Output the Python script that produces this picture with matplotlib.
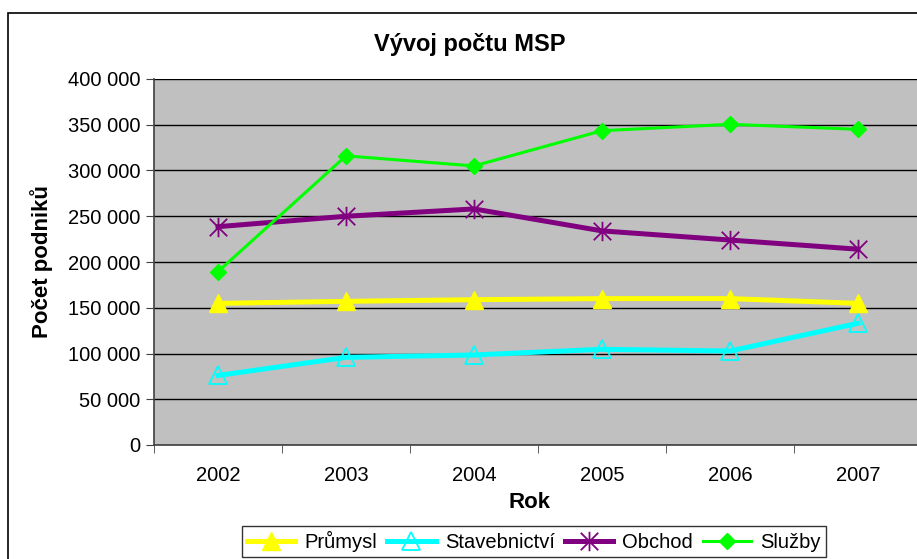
import matplotlib
matplotlib.use("Agg")
from matplotlib import pyplot as plt
from matplotlib.path import Path
from matplotlib.patches import Rectangle
from matplotlib.ticker import FuncFormatter, FixedLocator

plt.rcParams['font.family'] = ['Liberation Sans', 'DejaVu Sans']

years = ['2002', '2003', '2004', '2005', '2006', '2007']
prumysl = [154800, 157000, 158800, 160000, 160000, 154800]
stavebnictvi = [76000, 95800, 98400, 104600, 102700, 133000]
obchod = [238600, 250000, 258000, 234000, 224000, 214000]
sluzby = [189500, 316000, 305000, 343500, 350500, 345000]

# Excel-like star: vertical bar plus an X
star = Path([(0, -1), (0, 1), (-0.9, -0.9), (0.9, 0.9), (-0.9, 0.9), (0.9, -0.9)],
            [Path.MOVETO, Path.LINETO, Path.MOVETO, Path.LINETO, Path.MOVETO, Path.LINETO])

W, H = 917, 559
fig = plt.figure(figsize=(W / 100, H / 100), dpi=100)
fig.patch.set_facecolor('white')
fig.patches.append(Rectangle((8 / W, -0.05), 1.1, 1 - 13 / H + 0.05, transform=fig.transFigure,
                             fill=False, edgecolor='black', linewidth=1.2))

ax = fig.add_axes([154 / W, 1 - 445 / H, 768 / W, 366 / H])
ax.set_facecolor('#c0c0c0')

x = list(range(len(years)))
ax.plot(x, prumysl, color='#ffff00', lw=3.6, marker='^', ms=13, mfc='#ffff00', mec='#ffff00',
        label='Průmysl', zorder=3)
ax.plot(x, stavebnictvi, color='#00ffff', lw=3.6, marker='^', ms=13, mfc='none', mec='#00ffff',
        mew=1.3, label='Stavebnictví', zorder=3)
ax.plot(x, obchod, color='#800080', lw=3.6, marker=star, ms=14, mfc='none', mec='#800080',
        mew=1.3, label='Obchod', zorder=3)
ax.plot(x, sluzby, color='#00ff00', lw=2.2, marker='D', ms=8, mfc='#00ff00', mec='#00ff00',
        label='Služby', zorder=3)

ax.set_xlim(-0.5, len(years) - 0.5)
ax.set_ylim(0, 400000)
ax.set_yticks(range(0, 400001, 50000))
ax.yaxis.set_major_formatter(FuncFormatter(lambda v, p: f'{int(v):,}'.replace(',', ' ')))
ax.grid(axis='y', color='black', lw=1)
ax.set_axisbelow(True)

ax.set_xticks(x)
ax.set_xticklabels(years)
ax.xaxis.set_minor_locator(FixedLocator([i + 0.5 for i in range(-1, len(years))]))
ax.tick_params(axis='x', which='major', length=0, pad=15, labelsize=14.5)
ax.tick_params(axis='x', which='minor', length=6, direction='out', color='#404040')
ax.tick_params(axis='y', length=6, direction='out', color='#404040', labelsize=14.5, pad=4)

for s in ['top', 'right']:
    ax.spines[s].set_visible(False)
for s in ['left', 'bottom']:
    ax.spines[s].set_color('#404040')
    ax.spines[s].set_linewidth(1.2)

fig.text(470 / W, 1 - 45 / H, 'Vývoj počtu MSP', ha='center', va='center',
         fontsize=17, fontweight='bold')
fig.text(530 / W, 1 - 503 / H, 'Rok', ha='center', va='center', fontsize=16, fontweight='bold')
fig.text(42 / W, 1 - 262 / H, 'Počet podniků', ha='center', va='center', rotation=90,
         fontsize=16, fontweight='bold')

leg = fig.legend(loc='upper left', bbox_to_anchor=(242 / W, 1 - 526 / H), ncol=4,
                 frameon=True, fancybox=False, fontsize=14.5, handlelength=2.4,
                 handletextpad=0.45, columnspacing=0.5, borderpad=0.25, borderaxespad=0)
leg.get_frame().set_edgecolor('black')
leg.get_frame().set_linewidth(1)

fig.savefig('out.png', dpi=100)
